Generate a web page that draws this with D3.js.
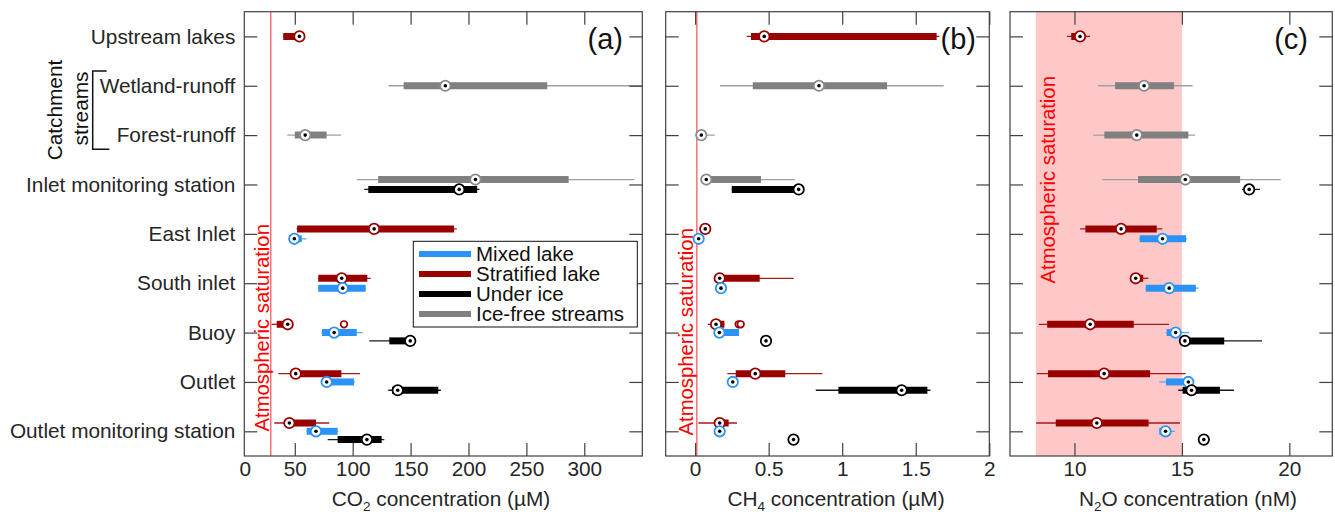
<!DOCTYPE html>
<html>
<head>
<meta charset="utf-8">
<script src="https://cdn.jsdelivr.net/npm/d3@7"></script>
<style>
  html, body { margin: 0; padding: 0; background: #fff; }
  svg { display: block; font-family: "Liberation Sans", Arial, sans-serif; }
</style>
</head>
<body>
<svg id="chart" width="1335" height="514"></svg>
<script>
// Sampling sites, top to bottom
const sites = ["Upstream lakes", "Wetland-runoff", "Forest-runoff", "Inlet monitoring station",
  "East Inlet", "South inlet", "Buoy", "Outlet", "Outlet monitoring station"];

// Sample groups (legend order) and their colours
const groups = ["Mixed lake", "Stratified lake", "Under ice", "Ice-free streams"];
const groupColors = ["#2b93f5", "#990000", "#000000", "#808080"];
const whiskerColors = ["#57a9f7", "#a31a1a", "#1a1a1a", "#a0a0a0"];
// Vertical stacking order inside one site row
const stackOrder = ["Ice-free streams", "Stratified lake", "Mixed lake", "Under ice"];

// Box statistics: [site, group, low whisker, Q1, median, Q3, high whisker]
const co2Stats = [
  ["Upstream lakes", "Stratified lake", 40, 40, 54, 55, 55],
  ["Wetland-runoff", "Ice-free streams", 131, 144, 180, 268, 370],
  ["Forest-runoff", "Ice-free streams", 43.5, 50, 59, 77.5, 90],
  ["Inlet monitoring station", "Ice-free streams", 103.5, 122, 206, 286.5, 343],
  ["Inlet monitoring station", "Under ice", 110, 113.5, 192, 207.5, 209.5],
  ["East Inlet", "Stratified lake", 51.5, 52, 118.5, 187.5, 190],
  ["East Inlet", "Mixed lake", 44.5, 45, 49.6, 56, 60],
  ["South inlet", "Stratified lake", 70, 70.3, 90.5, 112.6, 115.5],
  ["South inlet", "Mixed lake", 70, 70.3, 91.4, 111.2, 111.5],
  ["Buoy", "Stratified lake", 30, 34.4, 43.9, 44.5, 45],
  ["Buoy", "Mixed lake", 73, 73.5, 84, 103.5, 108.6],
  ["Buoy", "Under ice", 114.3, 131.6, 149.7, 150, 150],
  ["Outlet", "Stratified lake", 35.8, 48, 50.8, 90.2, 106.3],
  ["Outlet", "Mixed lake", 75, 76, 77.5, 101.1, 102],
  ["Outlet", "Under ice", 130.7, 134, 138.9, 173.9, 176.2],
  ["Outlet monitoring station", "Stratified lake", 32.3, 43, 45.3, 68.3, 79.8],
  ["Outlet monitoring station", "Mixed lake", 60, 60.3, 68.3, 87, 87.5],
  ["Outlet monitoring station", "Under ice", 78.4, 87, 112.3, 125, 127.3]
];
const co2Outliers = [["Buoy", "Stratified lake", 92.5]];

const ch4Stats = [
  ["Upstream lakes", "Stratified lake", 0.351, 0.38, 0.47, 1.642, 1.66],
  ["Wetland-runoff", "Ice-free streams", 0.169, 0.392, 0.842, 1.305, 1.69],
  ["Forest-runoff", "Ice-free streams", 0.04, 0.04, 0.042, 0.045, 0.133],
  ["Inlet monitoring station", "Ice-free streams", 0.07, 0.07, 0.076, 0.448, 0.679],
  ["Inlet monitoring station", "Under ice", 0.249, 0.249, 0.704, 0.71, 0.71],
  ["East Inlet", "Stratified lake", 0.069, 0.069, 0.069, 0.069, 0.069],
  ["East Inlet", "Mixed lake", 0.024, 0.024, 0.024, 0.024, 0.024],
  ["South inlet", "Stratified lake", 0.16, 0.165, 0.167, 0.439, 0.67],
  ["South inlet", "Mixed lake", 0.176, 0.176, 0.176, 0.176, 0.176],
  ["Buoy", "Stratified lake", 0.086, 0.13, 0.142, 0.199, 0.2],
  ["Buoy", "Mixed lake", 0.16, 0.162, 0.165, 0.298, 0.3],
  ["Buoy", "Under ice", 0.482, 0.482, 0.482, 0.482, 0.482],
  ["Outlet", "Stratified lake", 0.219, 0.276, 0.409, 0.613, 0.865],
  ["Outlet", "Mixed lake", 0.256, 0.256, 0.256, 0.256, 0.256],
  ["Outlet", "Under ice", 0.82, 0.974, 1.404, 1.579, 1.6],
  ["Outlet monitoring station", "Stratified lake", 0.022, 0.16, 0.167, 0.228, 0.285],
  ["Outlet monitoring station", "Mixed lake", 0.167, 0.167, 0.167, 0.167, 0.167],
  ["Outlet monitoring station", "Under ice", 0.669, 0.669, 0.669, 0.669, 0.669]
];
const ch4Outliers = [["Buoy", "Stratified lake", 0.296], ["Buoy", "Stratified lake", 0.31]];

const n2oStats = [
  ["Upstream lakes", "Stratified lake", 9.65, 9.85, 10.26, 10.3, 10.73],
  ["Wetland-runoff", "Ice-free streams", 11.1, 11.89, 13.24, 14.63, 15.5],
  ["Forest-runoff", "Ice-free streams", 10.87, 11.39, 12.9, 15.3, 15.61],
  ["Inlet monitoring station", "Ice-free streams", 11.3, 12.96, 15.16, 17.71, 19.6],
  ["Inlet monitoring station", "Under ice", 17.8, 18.1, 18.13, 18.15, 18.63],
  ["East Inlet", "Stratified lake", 10.26, 10.51, 12.17, 13.83, 14.09],
  ["East Inlet", "Mixed lake", 13.0, 13.04, 14.1, 15.19, 15.25],
  ["South inlet", "Stratified lake", 12.8, 12.82, 12.85, 13.2, 13.44],
  ["South inlet", "Mixed lake", 13.3, 13.32, 14.41, 15.65, 15.78],
  ["Buoy", "Stratified lake", 8.35, 8.73, 10.73, 12.76, 14.4],
  ["Buoy", "Mixed lake", 14.25, 14.29, 14.71, 14.91, 15.34],
  ["Buoy", "Under ice", 15.1, 15.12, 15.14, 16.97, 18.73],
  ["Outlet", "Stratified lake", 8.25, 8.77, 11.38, 13.52, 15.17],
  ["Outlet", "Mixed lake", 13.95, 14.26, 15.3, 15.3, 15.32],
  ["Outlet", "Under ice", 14.83, 15.03, 15.45, 16.77, 17.43],
  ["Outlet monitoring station", "Stratified lake", 8.22, 9.13, 11.04, 13.45, 14.91],
  ["Outlet monitoring station", "Mixed lake", 13.95, 13.95, 14.24, 14.45, 14.68],
  ["Outlet monitoring station", "Under ice", 16.02, 16.02, 16.02, 16.02, 16.02]
];
const n2oOutliers = [];

// Axis ticks and atmospheric-saturation references
const co2Ticks = [50, 100, 150, 200, 250, 300];
const ch4Ticks = [0, 0.5, 1, 1.5, 2];
const n2oTicks = [10, 15, 20];
const co2Saturation = 29.3;
const ch4Saturation = 0.012;
const n2oSaturationRange = [8.2, 15];

const svg = d3.select("#chart");
const plotTop = 11.7, plotBottom = 456;
const fontSize = 20.8;
const textColor = "#262626";
const frameColor = "#404040";

const y = d3.scaleLinear().domain([0.5, sites.length + 0.5]).range([plotTop, plotBottom]);
const rowOffsets = {1: [0], 2: [-0.1, 0.1], 3: [-0.168, 0, 0.168]};

function rowY(site, group, stats) {
  const present = stackOrder.filter(g => stats.some(d => d[0] === site && d[1] === g));
  const k = present.indexOf(group);
  return y(sites.indexOf(site) + 1 + rowOffsets[present.length][k]);
}

function panel(cfg) {
  const x = d3.scaleLinear().domain(cfg.domain).range([cfg.left, cfg.right]);
  const g = svg.append("g");
  const clipId = "clip-" + cfg.id;
  svg.append("clipPath").attr("id", clipId).append("rect")
    .attr("x", cfg.left).attr("y", plotTop).attr("width", cfg.right - cfg.left).attr("height", plotBottom - plotTop);

  const marks = g.append("g").attr("clip-path", `url(#${clipId})`);

  if (cfg.band) {
    marks.append("rect")
      .attr("x", x(cfg.band[0])).attr("y", plotTop)
      .attr("width", x(cfg.band[1]) - x(cfg.band[0])).attr("height", plotBottom - plotTop)
      .attr("fill", "#ffc8c8");
  }
  if (cfg.satLine !== undefined) {
    marks.append("line")
      .attr("x1", x(cfg.satLine)).attr("x2", x(cfg.satLine))
      .attr("y1", plotTop).attr("y2", plotBottom)
      .attr("stroke", "#ff2a2a").attr("stroke-width", 1);
  }

  // Saturation label
  g.append("text")
    .attr("transform", `translate(${cfg.satText[0]},${cfg.satText[1]}) rotate(-90)`)
    .attr("fill", "#ff0000").attr("font-size", 20.3)
    .text("Atmospheric saturation");

  const rows = cfg.stats.map(d => ({
    site: d[0], group: d[1], lo: d[2], q1: d[3], med: d[4], q3: d[5], hi: d[6],
    gi: groups.indexOf(d[1]), yy: rowY(d[0], d[1], cfg.stats)
  }));

  // whiskers
  marks.selectAll("line.whisker").data(rows.filter(d => d.hi > d.lo)).join("line")
    .attr("class", "whisker")
    .attr("x1", d => x(d.lo)).attr("x2", d => x(d.hi))
    .attr("y1", d => d.yy).attr("y2", d => d.yy)
    .attr("stroke", d => whiskerColors[d.gi]).attr("stroke-width", 1.3);

  // interquartile boxes
  marks.selectAll("line.box").data(rows.filter(d => d.q3 > d.q1)).join("line")
    .attr("class", "box")
    .attr("x1", d => x(d.q1)).attr("x2", d => x(d.q3))
    .attr("y1", d => d.yy).attr("y2", d => d.yy)
    .attr("stroke", d => groupColors[d.gi]).attr("stroke-width", 7);

  // outliers
  const outs = cfg.outliers.map(d => ({
    gi: groups.indexOf(d[1]), v: d[2], yy: rowY(d[0], d[1], cfg.stats)
  }));
  marks.selectAll("circle.outlier").data(outs).join("circle")
    .attr("class", "outlier")
    .attr("cx", d => x(d.v)).attr("cy", d => d.yy).attr("r", 3.3)
    .attr("fill", "#fff").attr("stroke", d => groupColors[d.gi]).attr("stroke-width", 1.7);

  // medians
  marks.selectAll("circle.median").data(rows).join("circle")
    .attr("class", "median")
    .attr("cx", d => x(d.med)).attr("cy", d => d.yy).attr("r", 5.2)
    .attr("fill", "#fff")
    .attr("stroke", d => d.gi === 3 ? "#8a8a8a" : groupColors[d.gi])
    .attr("stroke-width", 1.8);
  marks.selectAll("circle.dot").data(rows).join("circle")
    .attr("class", "dot")
    .attr("cx", d => x(d.med)).attr("cy", d => d.yy).attr("r", 1.8)
    .attr("fill", "#000");

  // axes with inward ticks on all four sides
  const tickLen = 13;
  const styleAxis = sel => {
    sel.select(".domain").remove();
    sel.selectAll(".tick line").attr("stroke", frameColor).attr("stroke-width", 1.2);
    sel.selectAll(".tick text").attr("fill", textColor).attr("font-size", fontSize)
      .attr("font-family", "Liberation Sans, Arial, sans-serif");
  };
  g.append("g").attr("transform", `translate(0,${plotBottom})`)
    .call(d3.axisBottom(x).tickValues(cfg.ticks).tickSizeInner(-tickLen).tickSizeOuter(0)
      .tickPadding(5.5).tickFormat(cfg.tickFormat))
    .call(styleAxis);
  g.append("g").attr("transform", `translate(0,${plotTop})`)
    .call(d3.axisTop(x).tickValues(cfg.ticks).tickSizeInner(-tickLen).tickSizeOuter(0).tickFormat(""))
    .call(styleAxis);
  const rowTicks = sites.map((s, i) => i + 1);
  g.append("g").attr("transform", `translate(${cfg.left},0)`)
    .call(d3.axisLeft(y).tickValues(rowTicks).tickSizeInner(-tickLen).tickSizeOuter(0)
      .tickPadding(9).tickFormat(cfg.showSites ? (d => sites[d - 1]) : ""))
    .call(styleAxis);
  g.append("g").attr("transform", `translate(${cfg.right},0)`)
    .call(d3.axisRight(y).tickValues(rowTicks).tickSizeInner(-tickLen).tickSizeOuter(0).tickFormat(""))
    .call(styleAxis);

  if (cfg.zeroLabel) {
    g.append("text").attr("x", cfg.left + 1).attr("y", 476)
      .attr("text-anchor", "middle").attr("fill", textColor).attr("font-size", fontSize).text("0");
  }

  // frame
  g.append("rect")
    .attr("x", cfg.left).attr("y", plotTop).attr("width", cfg.right - cfg.left).attr("height", plotBottom - plotTop)
    .attr("fill", "none").attr("stroke", frameColor).attr("stroke-width", 1.2);

  // panel letter
  g.append("text").attr("x", cfg.letterX).attr("y", 49).attr("text-anchor", "end")
    .attr("font-size", 29).attr("fill", "#111").text(cfg.letter);

  // axis title with subscript
  const t = g.append("text").attr("x", cfg.titleX).attr("y", 506)
    .attr("text-anchor", "middle").attr("fill", textColor).attr("font-size", fontSize);
  t.append("tspan").text(cfg.title[0]);
  t.append("tspan").attr("font-size", 13.5).attr("dy", 5).text(cfg.title[1]);
  t.append("tspan").attr("dy", -5).text(cfg.title[2]);

  return x;
}

panel({
  id: "co2", left: 244.3, right: 642.3, domain: [6.4, 350.1],
  stats: co2Stats, outliers: co2Outliers, ticks: co2Ticks, tickFormat: d3.format("d"),
  satLine: co2Saturation, satText: [268.5, 431.5], showSites: true, zeroLabel: true,
  letter: "(a)", letterX: 623, title: ["CO", "2", " concentration (µM)"], titleX: 441
});
panel({
  id: "ch4", left: 665.7, right: 989.3, domain: [-0.2, 2],
  stats: ch4Stats, outliers: ch4Outliers, ticks: ch4Ticks, tickFormat: d3.format("~g"),
  satLine: ch4Saturation, satText: [693, 435.5], showSites: false,
  letter: "(b)", letterX: 976, title: ["CH", "4", " concentration (µM)"], titleX: 836
});
panel({
  id: "n2o", left: 1010, right: 1332.3, domain: [7, 22],
  stats: n2oStats, outliers: n2oOutliers, ticks: n2oTicks, tickFormat: d3.format("d"),
  band: n2oSaturationRange, satText: [1054.5, 283.5], showSites: false,
  letter: "(c)", letterX: 1308, title: ["N", "2", "O concentration (nM)"], titleX: 1188
});

// Legend
const legend = svg.append("g");
legend.append("rect").attr("x", 413.3).attr("y", 241.3).attr("width", 224).attr("height", 85.7)
  .attr("fill", "#fff").attr("stroke", "#111").attr("stroke-width", 1);
groups.forEach((name, i) => {
  const ly = 254 + i * 20;
  legend.append("line").attr("x1", 419).attr("x2", 471).attr("y1", ly).attr("y2", ly)
    .attr("stroke", groupColors[i]).attr("stroke-width", 6);
  legend.append("text").attr("x", 476).attr("y", ly + 7.3).attr("font-size", 20.5)
    .attr("fill", "#111").text(name);
});

// Catchment streams bracket
const cs = svg.append("g").attr("fill", "#111").attr("font-size", fontSize);
cs.append("text").attr("transform", "translate(61.5,110) rotate(-90)")
  .attr("text-anchor", "middle").text("Catchment");
cs.append("text").attr("transform", "translate(88,108.5) rotate(-90)")
  .attr("text-anchor", "middle").text("streams");
cs.append("path").attr("d", "M106.7,71 H92.7 V149.3 H109.3")
  .attr("fill", "none").attr("stroke", "#111").attr("stroke-width", 1.5);
</script>
</body>
</html>
